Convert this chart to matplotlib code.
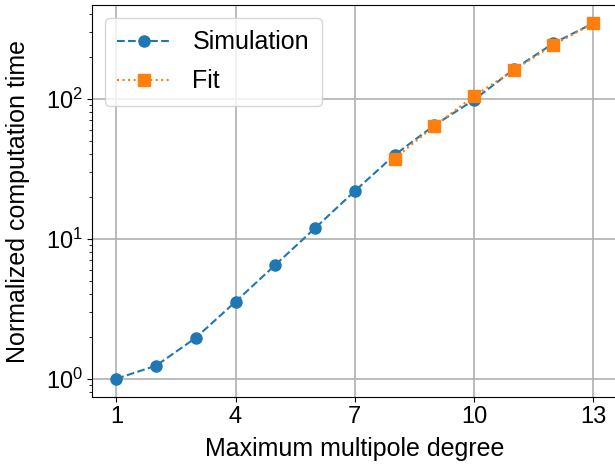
import matplotlib
matplotlib.use("Agg")
import matplotlib.pyplot as plt

degree_sim = [1, 2, 3, 4, 5, 6, 7, 8, 9, 10, 11, 12, 13]
time_sim = [1.0, 1.24, 1.96, 3.55, 6.5, 11.9, 21.9, 39.6, 64.5, 98, 162, 249, 346]
degree_fit = [8, 9, 10, 11, 12, 13]
time_fit = [37.3, 63.8, 104.5, 160, 242, 346]
xticks = [1, 4, 7, 10, 13]

plt.rcParams['font.family'] = ['Liberation Sans', 'DejaVu Sans']
plt.rcParams['mathtext.fontset'] = 'dejavusans'

fig = plt.figure(figsize=(6.15, 4.66), dpi=100)
ax = fig.add_axes([0.1504, 0.1491, 1.0033 - 0.1504, 0.9882 - 0.1491])

ax.plot(degree_sim, time_sim, '--o', color='#1f77b4', markersize=8, linewidth=1.5, label='Simulation', zorder=3)
ax.plot(degree_fit, time_fit, ':s', color='#ff7f0e', markersize=8, linewidth=1.5, label='Fit', zorder=4)
ax.set_yscale('log')
ax.set_xticks(xticks)
ax.grid(True, which='major', color='#b0b0b0', linewidth=1.2)
ax.set_axisbelow(True)
ax.tick_params(labelsize=17)
ax.set_xlabel('Maximum multipole degree', fontsize=18, labelpad=6)
ax.set_ylabel('Normalized computation time', fontsize=18, labelpad=11)
ax.legend(loc='upper left', fontsize=18, handlelength=2.1, labelspacing=0.6,
          borderpad=0.5, handletextpad=0.9)

fig.savefig('out.png', dpi=100)
